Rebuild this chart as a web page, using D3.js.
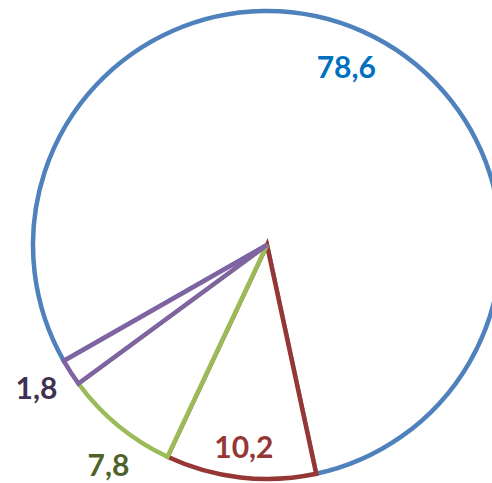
<!DOCTYPE html>
<html>
<head>
<meta charset="utf-8">
<script src="https://cdn.jsdelivr.net/npm/d3@7"></script>
<style>
  body { margin: 0; background: #fff; }
  svg text { font-family: Lato, "Open Sans", sans-serif; font-weight: 700; }
</style>
</head>
<body>
<div id="chart"></div>
<script>
// data
var categories = ['A', 'B', 'C', 'D'];
var values = [78.6, 10.2, 7.8, 1.8];
var labels = ['78,6', '10,2', '7,8', '1,8'];

var strokeColors = ['#4F81BD', '#953735', '#9BBB59', '#8064A2'];
var labelColors = ['#0070C0', '#953735', '#4F6228', '#3F3151'];

var width = 492, height = 483,
    cx = 267, cy = 245,
    radius = 234;

var data = categories.map(function (c, i) {
    return { cat: c, value: values[i], label: labels[i], i: i };
});

var start = 240.3 * Math.PI / 180;
var pie = d3.pie()
    .sort(null)
    .value(function (d) { return d.value; })
    .startAngle(start)
    .endAngle(start + 2 * Math.PI);

var arc = d3.arc().innerRadius(0).outerRadius(radius);

var svg = d3.select('#chart').append('svg')
    .attr('width', width)
    .attr('height', height)
    .append('g')
    .attr('transform', 'translate(' + cx + ',' + cy + ')');

var arcs = pie(data);

svg.selectAll('path.slice')
    .data(arcs)
    .enter().append('path')
    .attr('class', 'slice')
    .attr('d', arc)
    .attr('fill', '#fff')
    .attr('stroke', function (d) { return strokeColors[d.data.i]; })
    .attr('stroke-width', 4.5)
    .attr('stroke-linejoin', 'miter');

// labels: big slices inside, small ones outside
svg.selectAll('text.lbl')
    .data(arcs)
    .enter().append('text')
    .attr('class', 'lbl')
    .attr('transform', function (d) {
        var a = (d.startAngle + d.endAngle) / 2;
        var small = d.data.value < 9;
        var r = small ? radius * 1.16 : radius * (d.data.value > 50 ? 0.83 : 0.87);
        if (small) a -= (d.data.value > 5 ? 0.065 : -0.02);
        return 'translate(' + (Math.sin(a) * r) + ',' + (-Math.cos(a) * r) + ')';
    })
    .attr('text-anchor', 'middle')
    .attr('dy', '0.36em')
    .attr('font-size', 30)
    .attr('fill', function (d) { return labelColors[d.data.i]; })
    .text(function (d) { return d.data.label; });
</script>
</body>
</html>
